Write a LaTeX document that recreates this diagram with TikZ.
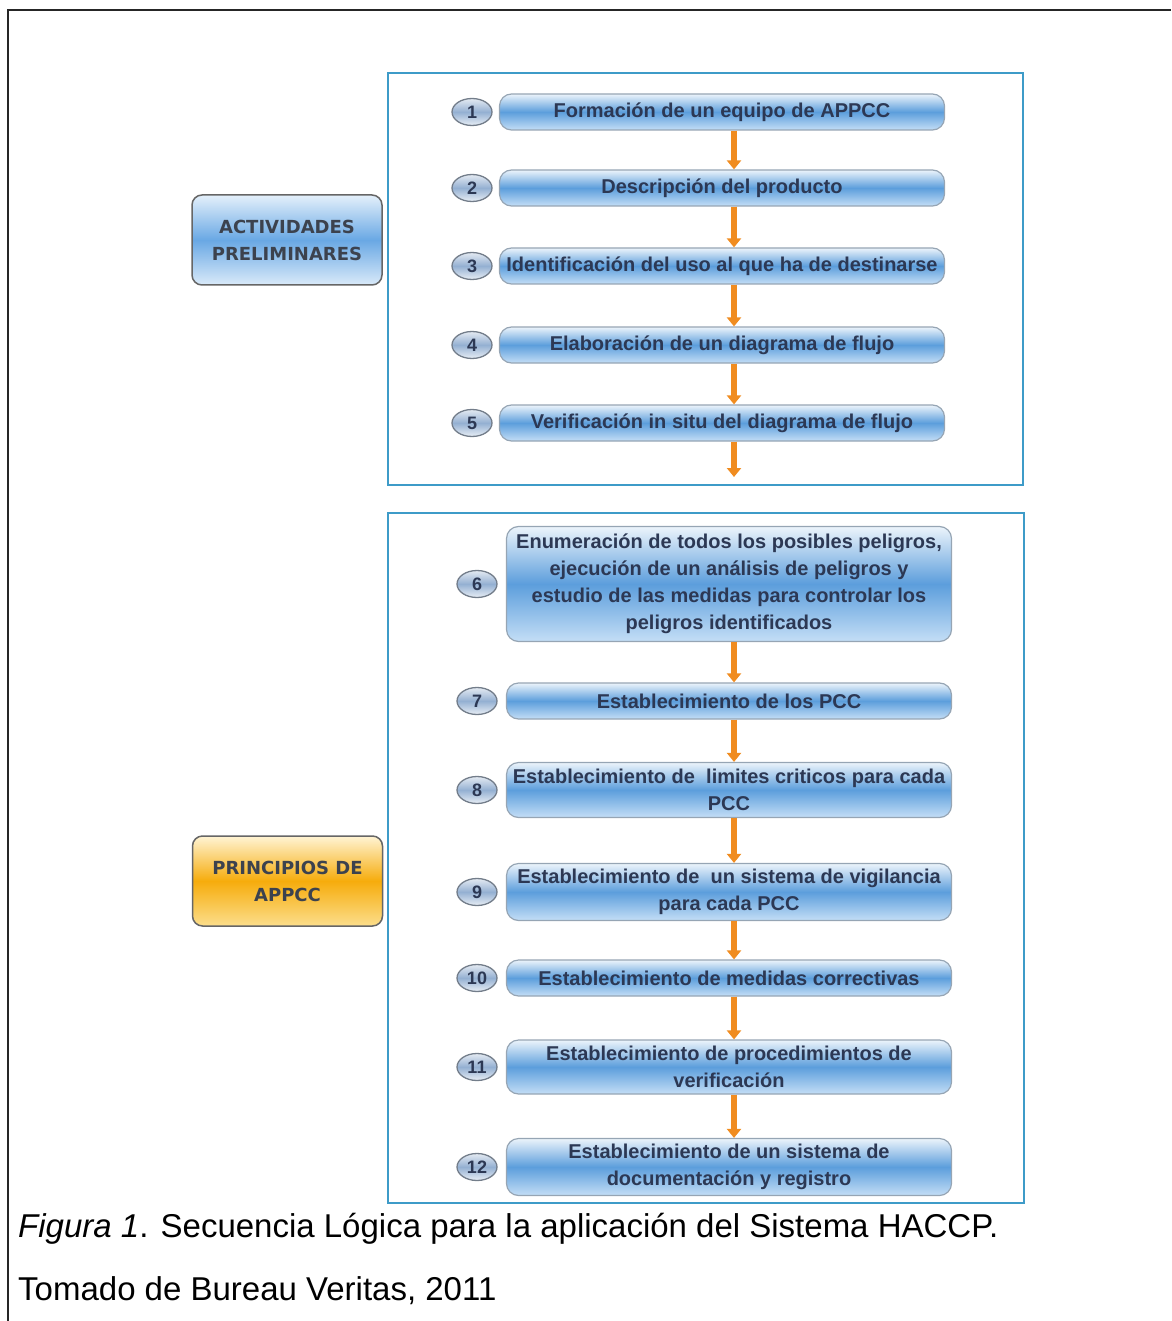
\documentclass[tikz,border=0pt]{standalone}
\usepackage{fontspec}
\setmainfont{Liberation Sans}
\newfontfamily\labelfont{DejaVu Sans}
\usetikzlibrary{shapes.geometric,arrows.meta}

\definecolor{steptop}{RGB}{236,244,251}
\definecolor{stepmid}{RGB}{92,158,220}
\definecolor{stepbot}{RGB}{196,222,246}
\definecolor{stepline}{RGB}{150,165,180}
\definecolor{steptext}{RGB}{44,56,84}
\definecolor{numtop}{RGB}{228,234,242}
\definecolor{nummid}{RGB}{148,176,210}
\definecolor{numbot}{RGB}{232,238,245}
\definecolor{numline}{RGB}{115,125,138}
\definecolor{flowcol}{RGB}{240,140,32}
\definecolor{framecol}{RGB}{62,155,200}
\definecolor{pretop}{RGB}{228,240,251}
\definecolor{premid}{RGB}{105,168,228}
\definecolor{prebot}{RGB}{218,234,249}
\definecolor{prinbot}{RGB}{252,222,140}
\definecolor{printop}{RGB}{255,244,212}
\definecolor{prinmid}{RGB}{246,172,12}
\definecolor{labeltext}{RGB}{60,66,78}

\begin{document}
\begin{tikzpicture}[x=1pt, y=1pt, node distance=78pt,
  stepbox/.style={rectangle, rounded corners=12pt, draw=stepline, line width=1.2pt, top color=steptop, bottom color=stepbot, middle color=stepmid, minimum width=445pt, minimum height=36pt, inner sep=1pt, align=center, text=steptext, font=\bfseries\fontsize{20}{27}\selectfont},
  numnode/.style={ellipse, draw=numline, line width=1.3pt, top color=numtop, bottom color=numbot, middle color=nummid, minimum width=40pt, minimum height=27pt, inner sep=0pt, text=steptext, font=\bfseries\fontsize{18}{18}\selectfont},
  phase/.style={rectangle, rounded corners=10pt, draw=black!60, line width=1.5pt, minimum width=190pt, minimum height=90pt, align=center, text=labeltext, font=\labelfont\bfseries\fontsize{18}{27}\selectfont},
  flow/.style={draw=flowcol, line width=5.5pt, -{Triangle[width=14pt,length=9pt]}},
  group/.style={draw=framecol, line width=2.5pt}]
  \useasboundingbox (0,0) rectangle (1171,-1321);
  { 
  % page frame
  \draw[line width=2.5pt, black!85] (8,-1321) -- (8,-10) -- (1171,-10);
  \draw[group] (388,-73) rectangle (1023,-485);
  \draw[group] (388,-513) rectangle (1024,-1203);

  \node[phase, top color=pretop, bottom color=prebot, middle color=premid] (pre) at (287,-240) {ACTIVIDADES\\PRELIMINARES};
  \node[phase, top color=printop, bottom color=prinbot, middle color=prinmid] (prin) at (287.5,-881) {PRINCIPIOS DE\\APPCC};

  % preliminary activities
  \node[stepbox] (s1) at (722,-112) {Formación de un equipo de APPCC};
  \node[stepbox, below of=s1, node distance=76pt] (s2) {Descripción del producto};
  \node[stepbox, below of=s2] (s3) {Identificación del uso al que ha de destinarse};
  \node[stepbox, below of=s3, node distance=79pt] (s4) {Elaboración de un diagrama de flujo};
  \node[stepbox, below of=s4] (s5) {Verificación in situ del diagrama de flujo};
  \coordinate (c5) at (734,-477);

  % principles
  \node[stepbox, minimum height=115pt] (s6) at (729,-584) {Enumeración de todos los posibles peligros,\\ejecución de un análisis de peligros y\\estudio de las medidas para controlar los\\peligros identificados};
  \node[stepbox, below of=s6, node distance=117pt] (s7) {Establecimiento de los PCC};
  \node[stepbox, below of=s7, node distance=89pt, minimum height=55pt] (s8) {Establecimiento de\ \ limites criticos para cada\\PCC};
  \node[stepbox, below of=s8, node distance=102pt, minimum height=57pt] (s9) {Establecimiento de\ \ un sistema de vigilancia\\para cada PCC};
  \node[stepbox, below of=s9, node distance=86pt] (s10) {Establecimiento de medidas correctivas};
  \node[stepbox, below of=s10, node distance=89pt, minimum height=54pt] (s11) {Establecimiento de procedimientos de\\verificación};
  \node[stepbox, below of=s11, node distance=100pt, minimum height=57pt] (s12) {Establecimiento de un sistema de\\documentación y registro};

  \node[numnode, left of=s1, node distance=250pt] (n1) {1};
  \node[numnode, left of=s2, node distance=250pt] (n2) {2};
  \node[numnode, left of=s3, node distance=250pt] (n3) {3};
  \node[numnode, left of=s4, node distance=250pt] (n4) {4};
  \node[numnode, left of=s5, node distance=250pt] (n5) {5};
  \node[numnode, left of=s6, node distance=252pt] (n6) {6};
  \node[numnode, left of=s7, node distance=252pt] (n7) {7};
  \node[numnode, left of=s8, node distance=252pt] (n8) {8};
  \node[numnode, left of=s9, node distance=252pt] (n9) {9};
  \node[numnode, left of=s10, node distance=252pt] (n10) {10};
  \node[numnode, left of=s11, node distance=252pt] (n11) {11};
  \node[numnode, left of=s12, node distance=252pt] (n12) {12};

  \draw[flow] ([xshift=12pt]s1.south) -- ([xshift=12pt]s2.north);
  \draw[flow] ([xshift=12pt]s2.south) -- ([xshift=12pt]s3.north);
  \draw[flow] ([xshift=12pt]s3.south) -- ([xshift=12pt]s4.north);
  \draw[flow] ([xshift=12pt]s4.south) -- ([xshift=12pt]s5.north);
  \draw[flow] ([xshift=12pt]s5.south) -- (c5);
  \draw[flow] ([xshift=5pt]s6.south) -- ([xshift=5pt]s7.north);
  \draw[flow] ([xshift=5pt]s7.south) -- ([xshift=5pt]s8.north);
  \draw[flow] ([xshift=5pt]s8.south) -- ([xshift=5pt]s9.north);
  \draw[flow] ([xshift=5pt]s9.south) -- ([xshift=5pt]s10.north);
  \draw[flow] ([xshift=5pt]s10.south) -- ([xshift=5pt]s11.north);
  \draw[flow] ([xshift=5pt]s11.south) -- ([xshift=5pt]s12.north);

  % caption
  \node[anchor=base west, inner sep=0pt, font=\fontsize{33}{33}\selectfont] (cap) at (18,-1237) {\textit{Figura 1}. Secuencia Lógica para la aplicación del Sistema HACCP.};
  \node[anchor=base west, inner sep=0pt, font=\fontsize{33}{33}\selectfont] (src) at (18,-1300) {Tomado de Bureau Veritas, 2011};
}
\end{tikzpicture}
\end{document}
